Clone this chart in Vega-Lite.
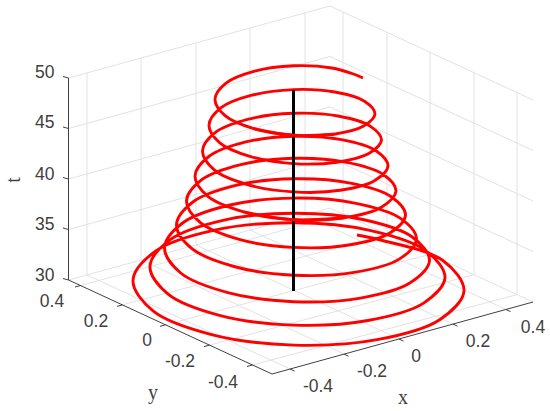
{"$schema":"https://vega.github.io/schema/vega-lite/v6.json","width":550,"height":411,"padding":0,"autosize":{"type":"none"},"background":"white","view":{"stroke":null},
"datasets":{
"grid":[
{"h":68.5,"v":280,"h2":330,"v2":208},{"h":68.5,"v":229.5,"h2":330,"v2":157.5},{"h":68.5,"v":179,"h2":330,"v2":107},{"h":68.5,"v":128.5,"h2":330,"v2":56.5},{"h":68.5,"v":78,"h2":330,"v2":6},
{"h":330,"v":208,"h2":533,"v2":302},{"h":330,"v":157.5,"h2":533,"v2":251.5},{"h":330,"v":107,"h2":533,"v2":201},{"h":330,"v":56.5,"h2":533,"v2":150.5},{"h":330,"v":6,"h2":533,"v2":100},
{"h":87,"v":275,"h2":87,"v2":73},{"h":141,"v":260,"h2":141,"v2":58},{"h":196,"v":245,"h2":196,"v2":43},{"h":250,"v":230,"h2":250,"v2":28},{"h":305,"v":215,"h2":305,"v2":13},
{"h":517,"v":294.6,"h2":517,"v2":92.6},{"h":474,"v":274.7,"h2":474,"v2":72.7},{"h":430,"v":254.3,"h2":430,"v2":52.3},{"h":387,"v":234.4,"h2":387,"v2":32.4},{"h":343,"v":214,"h2":343,"v2":12},
{"h":290,"v":369,"h2":87,"v2":275},{"h":344,"v":354.1,"h2":141,"v2":260},{"h":399,"v":339,"h2":196,"v2":245},{"h":453,"v":324.1,"h2":250,"v2":230},{"h":506,"v":309.5,"h2":305,"v2":215},
{"h":80.5,"v":285.5,"h2":343,"v2":214},{"h":122.5,"v":304.9,"h2":387,"v2":234.4},{"h":165.5,"v":324.8,"h2":430,"v2":254.3},{"h":209.5,"v":345.1,"h2":474,"v2":274.7},{"h":252.5,"v":365,"h2":517,"v2":294.6}
],
"axes":[
{"h":68.5,"v":78,"h2":68.5,"v2":280},{"h":68.5,"v":280,"h2":272,"v2":374},{"h":272,"v":374,"h2":533,"v2":302},
{"h":68.5,"v":78,"h2":63,"v2":76.5},{"h":68.5,"v":128.5,"h2":63,"v2":127},{"h":68.5,"v":179,"h2":63,"v2":177.5},{"h":68.5,"v":229.5,"h2":63,"v2":228},{"h":68.5,"v":280,"h2":63,"v2":278.5},
{"h":80.5,"v":285.5,"h2":75,"v2":287},{"h":122.5,"v":304.9,"h2":117,"v2":306.4},{"h":165.5,"v":324.8,"h2":160,"v2":326.3},{"h":209.5,"v":345.1,"h2":204,"v2":346.6},{"h":252.5,"v":365,"h2":247,"v2":366.5},
{"h":290,"v":369,"h2":294.5,"v2":371.1},{"h":344,"v":354.1,"h2":348.5,"v2":356.2},{"h":399,"v":339,"h2":403.5,"v2":341.1},{"h":453,"v":324.1,"h2":457.5,"v2":326.2},{"h":506,"v":309.5,"h2":510.5,"v2":311.6}
],
"rod":[{"h":293.5,"v":291,"h2":293.5,"v2":90}],
"ticks":[
{"h":54.5,"v":73,"label":"50"},{"h":54.5,"v":123,"label":"45"},{"h":54.5,"v":175,"label":"40"},{"h":54.5,"v":225,"label":"35"},{"h":54.5,"v":276,"label":"30"}
],
"labels":[
{"h":52,"v":302,"label":"0.4"},{"h":96,"v":322,"label":"0.2"},{"h":147,"v":341,"label":"0"},{"h":180,"v":362,"label":"-0.2"},{"h":223,"v":383,"label":"-0.4"},
{"h":318,"v":387,"label":"-0.4"},{"h":372,"v":372,"label":"-0.2"},{"h":416,"v":357,"label":"0"},{"h":478,"v":342,"label":"0.2"},{"h":533,"v":328,"label":"0.4"}
],
"titles":[{"h":403,"v":398,"label":"x"},{"h":153,"v":393,"label":"y"}],
"ttitle":[{"h":14,"v":180,"label":"t"}],
"helix":[
{"k":0,"h":357,"v":235},{"k":1,"h":380.5,"v":240},{"k":2,"h":442.9,"v":260.5},{"k":3,"h":464,"v":290.7},{"k":4,"h":439.7,"v":319.7},{"k":5,"h":377.1,"v":339.7},{"k":6,"h":293.5,"v":345.1},{"k":7,"h":211.6,"v":334.6},{"k":8,"h":153,"v":310.9},{"k":9,"h":133,"v":280.4},{"k":10,"h":155.8,"v":251},{"k":11,"h":214.7,"v":230.1},{"k":12,"h":293.5,"v":222.8},{"k":13,"h":370.8,"v":230.6},{"k":14,"h":426,"v":250.8},{"k":15,"h":445,"v":277.5},{"k":16,"h":423.6,"v":303.1},{"k":17,"h":367.9,"v":320.5},{"k":18,"h":293.5,"v":325.1},{"k":19,"h":220.4,"v":315.6},{"k":20,"h":168.1,"v":294.1},{"k":21,"h":150,"v":266.6},{"k":22,"h":170.3,"v":239.6},{"k":23,"h":223,"v":220.3},{"k":24,"h":293.5,"v":213.2},{"k":25,"h":362.8,"v":219.5},{"k":26,"h":412.3,"v":237},{"k":27,"h":429.5,"v":260.4},{"k":28,"h":410.2,"v":282.8},{"k":29,"h":360.4,"v":298.1},{"k":30,"h":293.5,"v":301.7},{"k":31,"h":227.9,"v":292.6},{"k":32,"h":180.7,"v":273},{"k":33,"h":164.5,"v":247.7},{"k":34,"h":182.6,"v":223},{"k":35,"h":230,"v":205},{"k":36,"h":293.5,"v":198.1},{"k":37,"h":356,"v":203.3},{"k":38,"h":400.9,"v":218.6},{"k":39,"h":416.5,"v":239.2},{"k":40,"h":399.2,"v":259.1},{"k":41,"h":354,"v":272.4},{"k":42,"h":293.5,"v":275.2},{"k":43,"h":234,"v":266.5},{"k":44,"h":191.3,"v":248.2},{"k":45,"h":176.5,"v":224.8},{"k":46,"h":192.9,"v":202},{"k":47,"h":235.8,"v":185.4},{"k":48,"h":293.5,"v":178.8},{"k":49,"h":350.4,"v":183.1},{"k":50,"h":391.2,"v":196.7},{"k":51,"h":405.5,"v":215.1},{"k":52,"h":389.8,"v":233},{"k":53,"h":348.7,"v":245},{"k":54,"h":293.5,"v":247.4},{"k":55,"h":239.2,"v":239.4},{"k":56,"h":200.1,"v":222.4},{"k":57,"h":186.5,"v":200.9},{"k":58,"h":201.5,"v":179.9},{"k":59,"h":240.8,"v":164.6},{"k":60,"h":293.5,"v":158.3},{"k":61,"h":345.5,"v":162.1},{"k":62,"h":383,"v":174.3},{"k":63,"h":396,"v":191},{"k":64,"h":381.7,"v":207},{"k":65,"h":344.1,"v":217.8},{"k":66,"h":293.5,"v":219.7},{"k":67,"h":243.6,"v":211.9},{"k":68,"h":207.6,"v":196.2},{"k":69,"h":195,"v":176},{"k":70,"h":208.8,"v":156.5},{"k":71,"h":244.9,"v":142.2},{"k":72,"h":293.5,"v":136.3},{"k":73,"h":341.4,"v":139.6},{"k":74,"h":376,"v":150.7},{"k":75,"h":388,"v":165.9},{"k":76,"h":374.8,"v":180.5},{"k":77,"h":340.2,"v":190.3},{"k":78,"h":293.5,"v":191.9},{"k":79,"h":247.4,"v":184.6},{"k":80,"h":214.2,"v":169.9},{"k":81,"h":202.5,"v":151.1},{"k":82,"h":215.1,"v":132.7},{"k":83,"h":248.5,"v":119.2},{"k":84,"h":293.5,"v":113.3},{"k":85,"h":338,"v":116},{"k":86,"h":370.1,"v":126.1},{"k":87,"h":381.5,"v":139.9},{"k":88,"h":369.2,"v":153.3},{"k":89,"h":336.9,"v":162.2},{"k":90,"h":293.5,"v":163.6},{"k":91,"h":250.7,"v":156.6},{"k":92,"h":219.8,"v":142.8},{"k":93,"h":209,"v":125.2},{"k":94,"h":220.8,"v":107.9},{"k":95,"h":251.8,"v":95.2},{"k":96,"h":293.5,"v":89.6},{"k":97,"h":334.8,"v":92},{"k":98,"h":364.5,"v":101.2},{"k":99,"h":375,"v":113.8},{"k":100,"h":363.6,"v":126.1},{"k":101,"h":333.8,"v":134.2},{"k":102,"h":293.5,"v":135.3},{"k":103,"h":253.8,"v":128.7},{"k":104,"h":225.1,"v":115.7},{"k":105,"h":215,"v":99.2},{"k":106,"h":226,"v":83.2},{"k":107,"h":254.7,"v":71.2},{"k":108,"h":293.5,"v":65.8},{"k":109,"h":331.9,"v":68},{"k":110,"h":352,"v":73.5},{"k":111,"h":363,"v":78}
],
"over":[
{"turn":"a","k":0,"h":344.1,"v":217.8},{"turn":"a","k":1,"h":293.5,"v":219.7},{"turn":"a","k":2,"h":243.6,"v":211.9},
{"turn":"b","k":0,"h":333.8,"v":134.2},{"turn":"b","k":1,"h":293.5,"v":135.3},{"turn":"b","k":2,"h":253.8,"v":128.7}
]},
"encoding":{
"x":{"field":"h","type":"quantitative","scale":{"domain":[0,550]},"axis":null},
"y":{"field":"v","type":"quantitative","scale":{"domain":[411,0]},"axis":null}},
"layer":[
{"data":{"name":"grid"},"mark":{"type":"rule","color":"#e2e2e2","strokeWidth":1},"encoding":{"x2":{"field":"h2"},"y2":{"field":"v2"}}},
{"data":{"name":"axes"},"mark":{"type":"rule","color":"#404040","strokeWidth":1},"encoding":{"x2":{"field":"h2"},"y2":{"field":"v2"}}},
{"data":{"name":"helix"},"mark":{"type":"line","color":"#ff0000","strokeWidth":2.9,"interpolate":"catmull-rom"},"encoding":{"order":{"field":"k"}}},
{"data":{"name":"rod"},"mark":{"type":"rule","color":"#000000","strokeWidth":3},"encoding":{"x2":{"field":"h2"},"y2":{"field":"v2"}}},
{"data":{"name":"over"},"mark":{"type":"line","color":"#ff0000","strokeWidth":2.9,"interpolate":"catmull-rom"},"encoding":{"order":{"field":"k"},"detail":{"field":"turn"}}},
{"data":{"name":"ticks"},"mark":{"type":"text","font":"Liberation Sans","fontSize":17.5,"color":"#404040","align":"right","baseline":"middle"},"encoding":{"text":{"field":"label"}}},
{"data":{"name":"labels"},"mark":{"type":"text","font":"Liberation Sans","fontSize":17.5,"color":"#404040","align":"center","baseline":"middle"},"encoding":{"text":{"field":"label"}}},
{"data":{"name":"titles"},"mark":{"type":"text","font":"Liberation Serif","fontSize":20,"color":"#404040","align":"center","baseline":"middle"},"encoding":{"text":{"field":"label"}}},
{"data":{"name":"ttitle"},"mark":{"type":"text","font":"Liberation Serif","fontSize":20,"color":"#404040","align":"center","baseline":"middle","angle":270},"encoding":{"text":{"field":"label"}}}
]}
